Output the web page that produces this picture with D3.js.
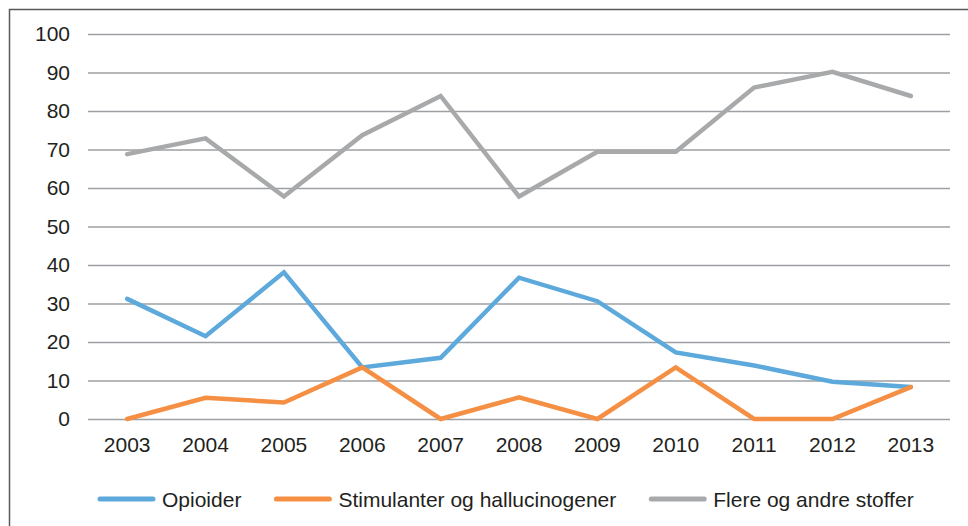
<!DOCTYPE html>
<html>
<head>
<meta charset="utf-8">
<script src="https://cdn.jsdelivr.net/npm/d3@7"></script>
<style>
  body { margin: 0; background: #fff; }
  text { font-family: "Liberation Sans", Arial, sans-serif; fill: #231f20; }
</style>
</head>
<body>
<div id="chart"></div>
<script>
const years = ['2003', '2004', '2005', '2006', '2007', '2008', '2009', '2010', '2011', '2012', '2013'];
const seriesNames = ['Opioider', 'Stimulanter og hallucinogener', 'Flere og andre stoffer'];
const opioider = [31.2, 21.5, 38.1, 13.4, 15.9, 36.7, 30.6, 17.3, 13.9, 9.7, 8.3];
const stimulanter = [0, 5.5, 4.3, 13.4, 0, 5.6, 0, 13.4, 0, 0, 8.3];
const flere = [68.8, 72.9, 57.8, 73.7, 83.9, 57.8, 69.4, 69.4, 86.1, 90.2, 83.9];
const yTicks = [0, 10, 20, 30, 40, 50, 60, 70, 80, 90, 100];
const colors = ['#5ea9dc', '#f58f43', '#a7a9aa'];

const width = 968, height = 526;
const margin = { top: 34, right: 18, bottom: 107, left: 88 };
const fontSize = 21;

const svg = d3.select('#chart').append('svg')
  .attr('width', width)
  .attr('height', height);

// outer frame (cut off at right and bottom)
svg.append('rect')
  .attr('x', 9.5).attr('y', 9.5)
  .attr('width', width + 20).attr('height', height + 20)
  .attr('fill', 'none')
  .attr('stroke', '#58595b')
  .attr('stroke-width', 1.5);

const x = d3.scaleBand()
  .domain(years)
  .range([margin.left, width - margin.right])
  .padding(0);

const y = d3.scaleLinear()
  .domain([0, 100])
  .range([height - margin.bottom, margin.top]);

// gridlines + y labels
const yAxis = d3.axisLeft(y)
  .tickValues(yTicks)
  .tickSize(-(width - margin.right - margin.left))
  .tickPadding(18);

const yg = svg.append('g')
  .attr('transform', 'translate(' + margin.left + ',0)')
  .call(yAxis);
yg.select('.domain').remove();
yg.selectAll('.tick line').attr('stroke', '#9d9fa2').attr('stroke-width', 1.5);
yg.selectAll('.tick text').attr('font-size', fontSize).attr('fill', '#231f20')
  .style('font-family', '"Liberation Sans", Arial, sans-serif');

// x labels
const xAxis = d3.axisBottom(x).tickSize(0).tickPadding(18);
const xg = svg.append('g')
  .attr('transform', 'translate(0,' + y(0) + ')')
  .call(xAxis);
xg.select('.domain').remove();
xg.selectAll('.tick text').attr('font-size', fontSize).attr('fill', '#231f20')
  .style('font-family', '"Liberation Sans", Arial, sans-serif');

const line = d3.line()
  .x((d, i) => x(years[i]) + x.bandwidth() / 2)
  .y(d => y(d));

const allSeries = [opioider, stimulanter, flere];
// draw gray first so blue/orange sit on top
[2, 0, 1].forEach(k => {
  svg.append('path')
    .datum(allSeries[k])
    .attr('d', line)
    .attr('fill', 'none')
    .attr('stroke', colors[k])
    .attr('stroke-width', 4.5)
    .attr('stroke-linejoin', 'miter')
    .attr('stroke-linecap', 'round');
});

// legend
const legend = svg.append('g').attr('transform', 'translate(0,499)');
let lx = 100;
seriesNames.forEach((name, i) => {
  legend.append('line')
    .attr('x1', lx).attr('x2', lx + 53)
    .attr('y1', 0).attr('y2', 0)
    .attr('stroke', colors[i])
    .attr('stroke-width', 5)
    .attr('stroke-linecap', 'round');
  const t = legend.append('text')
    .attr('x', lx + 62)
    .attr('y', 7.5)
    .attr('font-size', fontSize)
    .text(name);
  lx = lx + 62 + t.node().getComputedTextLength() + 35;
});
</script>
</body>
</html>
